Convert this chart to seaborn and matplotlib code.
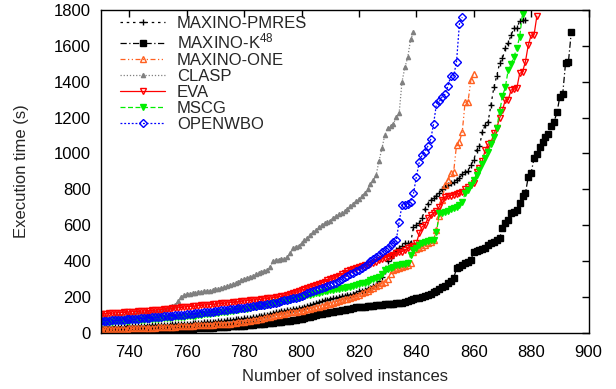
import numpy as np
import pandas as pd
import matplotlib
matplotlib.use("Agg")
import matplotlib.pyplot as plt
import seaborn as sns

# cactus plot: every list holds sorted run times (s), first value = instance 730
x_start = 730

pmres = [30, 30, 31, 31, 32, 33, 33, 34, 34, 35,
         35, 36, 37, 37, 38, 39, 40, 40, 41, 42,
         42, 43, 44, 45, 45, 46, 47, 48, 49, 50,
         50, 51, 52, 54, 55, 56, 57, 58, 60, 61,
         62, 64, 65, 67, 69, 70, 72, 74, 76, 78,
         80, 82, 84, 86, 88, 91, 94, 97, 101, 105,
         110, 113, 116, 119, 122, 125, 128, 131, 134, 137,
         140, 143, 147, 152, 158, 165, 170, 175, 180, 185,
         190, 193, 196, 199, 202, 205, 208, 212, 218, 224,
         230, 235, 240, 245, 250, 258, 266, 290, 312, 345,
         400, 418, 440, 460, 475, 485, 498, 498, 500, 590,
         600, 610, 640, 690, 720, 740, 750, 765, 778, 800,
         811, 824, 833, 842, 852, 861, 885, 898, 903, 935,
         963, 1019, 1040, 1121, 1158, 1177, 1270, 1368, 1432, 1502,
         1530, 1586, 1614, 1660, 1697, 1697, 1740, 1744, 1746]

k48 = [5, 5, 6, 6, 7, 7, 8, 8, 9, 10,
       10, 11, 11, 12, 12, 13, 13, 14, 14, 15,
       15, 16, 16, 17, 18, 18, 19, 20, 20, 21,
       22, 22, 23, 24, 25, 25, 26, 27, 28, 29,
       30, 31, 32, 33, 34, 35, 36, 37, 38, 39,
       40, 41, 43, 44, 46, 47, 49, 51, 52, 54,
       55, 57, 59, 61, 63, 65, 68, 70, 73, 75,
       78, 82, 86, 90, 94, 98, 102, 105, 108, 111,
       114, 117, 120, 123, 126, 129, 132, 135, 138, 141,
       143, 144, 145, 147, 149, 151, 153, 155, 157, 159,
       160, 161, 162, 163, 164, 166, 170, 175, 180, 186,
       192, 196, 200, 205, 210, 215, 225, 235, 245, 255,
       262, 275, 290, 303, 359, 365, 375, 387, 395, 405,
       452, 455, 461, 465, 471, 490, 499, 505, 517, 526,
       582, 610, 630, 666, 675, 684, 722, 765, 777, 870,
       892, 972, 997, 1038, 1065, 1093, 1110, 1153, 1177, 1229,
       1316, 1330, 1506, 1511, 1679]

one = [18, 18, 19, 19, 20, 20, 21, 21, 22, 23,
       24, 24, 25, 25, 26, 26, 27, 27, 28, 29,
       30, 30, 31, 32, 32, 33, 34, 35, 36, 37,
       38, 39, 40, 41, 41, 42, 43, 44, 45, 45,
       46, 47, 48, 49, 50, 51, 53, 55, 57, 59,
       62, 64, 67, 70, 73, 76, 79, 82, 86, 90,
       95, 98, 101, 104, 107, 110, 113, 116, 118, 120,
       122, 126, 130, 134, 138, 142, 146, 150, 154, 158,
       162, 164, 170, 176, 182, 186, 190, 192, 198, 205,
       212, 220, 228, 235, 242, 250, 258, 266, 275, 285,
       300, 330, 350, 355, 359, 365, 372, 380, 387, 452,
       465, 475, 480, 490, 500, 508, 517, 573, 650, 740,
       824, 852, 889, 898, 1047, 1065, 1121, 1288, 1288, 1409,
       1443]

clasp = [85, 86, 88, 89, 90, 92, 93, 94, 96, 97,
         99, 100, 102, 103, 105, 107, 108, 110, 112, 114,
         118, 122, 126, 130, 145, 150, 155, 175, 200, 208,
         215, 218, 220, 223, 226, 228, 231, 233, 235, 238,
         242, 246, 250, 254, 258, 264, 270, 278, 285, 292,
         300, 306, 312, 318, 325, 332, 340, 345, 350, 365,
         400, 405, 408, 410, 412, 420, 445, 470, 480, 485,
         500, 515, 530, 545, 560, 575, 590, 600, 610, 615,
         625, 640, 650, 660, 670, 680, 690, 705, 720, 735,
         745, 760, 780, 800, 830, 850, 880, 960, 1028, 1102,
         1140, 1152, 1164, 1205, 1224, 1400, 1480, 1536, 1636, 1675]

eva = [105, 106, 107, 108, 109, 110, 111, 112, 113, 115,
       116, 117, 118, 119, 120, 121, 122, 123, 124, 126,
       128, 129, 131, 132, 134, 136, 137, 139, 141, 143,
       145, 146, 148, 149, 151, 152, 154, 155, 157, 158,
       160, 161, 163, 164, 166, 168, 169, 171, 173, 175,
       177, 179, 180, 182, 183, 185, 187, 189, 191, 193,
       195, 197, 200, 203, 207, 210, 215, 220, 225, 230,
       238, 242, 248, 255, 260, 265, 270, 278, 285, 292,
       298, 303, 310, 318, 326, 334, 342, 350, 355, 360,
       365, 370, 375, 379, 383, 390, 397, 404, 410, 418,
       424, 430, 436, 442, 448, 452, 460, 470, 478, 485,
       500, 554, 591, 600, 638, 655, 666, 680, 703, 740,
       758, 760, 765, 768, 772, 778, 786, 800, 815, 824,
       833, 898, 917, 960, 1019, 1052, 1059, 1112, 1140, 1196,
       1242, 1298, 1298, 1354, 1358, 1363, 1446, 1455, 1511, 1604,
       1660, 1660, 1766]

mscg = [58, 59, 60, 61, 62, 63, 64, 65, 66, 67,
        68, 69, 70, 71, 72, 73, 74, 75, 77, 78,
        79, 80, 81, 83, 84, 85, 86, 88, 89, 90,
        92, 93, 95, 96, 98, 100, 102, 104, 106, 108,
        110, 112, 114, 116, 118, 120, 122, 124, 127, 130,
        132, 135, 138, 141, 144, 147, 150, 153, 156, 160,
        163, 166, 170, 173, 177, 180, 184, 188, 192, 196,
        200, 204, 208, 212, 216, 220, 224, 228, 232, 235,
        237, 239, 242, 245, 248, 251, 254, 257, 262, 267,
        272, 276, 280, 285, 292, 300, 305, 310, 330, 350,
        355, 360, 368, 375, 378, 382, 385, 387, 433, 460,
        470, 489, 500, 508, 512, 515, 517, 560, 666, 670,
        675, 680, 688, 694, 700, 712, 730, 777, 796, 824,
        850, 880, 910, 940, 975, 1010, 1050, 1093, 1140, 1230,
        1320, 1368, 1465, 1500, 1539, 1586, 1650, 1780]

openwbo = [65, 66, 67, 68, 69, 70, 71, 72, 73, 74,
           75, 76, 77, 79, 80, 81, 82, 84, 85, 86,
           88, 89, 91, 92, 94, 95, 97, 98, 100, 101,
           103, 105, 106, 108, 110, 112, 113, 115, 117, 118,
           120, 122, 124, 126, 128, 130, 132, 134, 136, 138,
           140, 142, 145, 147, 150, 152, 155, 157, 160, 162,
           165, 168, 172, 176, 180, 184, 188, 192, 196, 200,
           205, 212, 220, 228, 235, 240, 245, 250, 255, 260,
           265, 270, 280, 290, 300, 310, 318, 326, 334, 342,
           352, 362, 372, 385, 400, 412, 424, 436, 448, 461,
           475, 490, 505, 517, 619, 712, 712, 720, 731, 777,
           870, 950, 990, 1010, 1040, 1078, 1164, 1276, 1290, 1316,
           1331, 1376, 1432, 1432, 1511, 1722, 1759]

labels = ["MAXINO-PMRES", "MAXINO-K$^{48}$", "MAXINO-ONE", "CLASP",
          "EVA", "MSCG", "OPENWBO"]
series = [pmres, k48, one, clasp, eva, mscg, openwbo]

# gnuplot-like styles
colors = ["black", "black", "#ff6020", "#808080", "#ff0000", "#00ee00", "#0000ff"]
markers = ["+", "s", "^", "^", "v", "v", "D"]
sizes = [5, 4, 5, 3, 5, 4, 4]
fills = ["full", "full", "none", "full", "none", "full", "none"]
dashes = [(0, (2, 3)), (0, (5, 2, 1, 2)), (0, (4, 2, 1, 2, 1, 2)), (0, (1, 1.5)),
          "-", (0, (4, 2)), (0, (1.5, 1.5))]

sns.set_style("white")
plt.rcParams["font.family"] = ["Liberation Sans", "DejaVu Sans"]
plt.rcParams["mathtext.fontset"] = "custom"
plt.rcParams["mathtext.rm"] = "Liberation Sans"
plt.rcParams["mathtext.it"] = "Liberation Sans"
plt.rcParams["mathtext.default"] = "rm"

fig = plt.figure(figsize=(6.16, 3.89), dpi=100)
ax = fig.add_axes([0.1635, 0.1447, 0.7919, 0.8296])

for i in range(len(series)):
    y = series[i]
    df = pd.DataFrame({"n": np.arange(x_start, x_start + len(y)), "t": y})
    sns.lineplot(data=df, x="n", y="t", ax=ax, estimator=None, sort=False,
                 color=colors[i], linestyle=dashes[i], linewidth=0.9,
                 marker=markers[i], markersize=sizes[i], fillstyle=fills[i],
                 mec=colors[i], mfc=colors[i] if fills[i] == "full" else "none",
                 mew=1.0, label=labels[i])

ax.set_xlim(730, 900)
ax.set_ylim(0, 1800)
ax.set_xticks(range(740, 901, 20))
ax.set_yticks(range(0, 1801, 200))
ax.tick_params(direction="in", top=True, right=True, length=5, width=1,
               labelsize=12, colors="black", pad=7)
ax.tick_params(axis="x", pad=9)
for s in ax.spines.values():
    s.set_color("black")
    s.set_linewidth(1.0)

ax.set_xlabel("Number of solved instances", fontsize=12, labelpad=6)
ax.set_ylabel("Execution time (s)", fontsize=12, labelpad=18)

ax.legend(loc="upper left", bbox_to_anchor=(0.04, 0.982), frameon=False,
          fontsize=12, handlelength=2.7, handletextpad=0.7, labelspacing=0.06,
          numpoints=1, borderpad=0.0, borderaxespad=0.0)

fig.savefig("out.png", dpi=100)
